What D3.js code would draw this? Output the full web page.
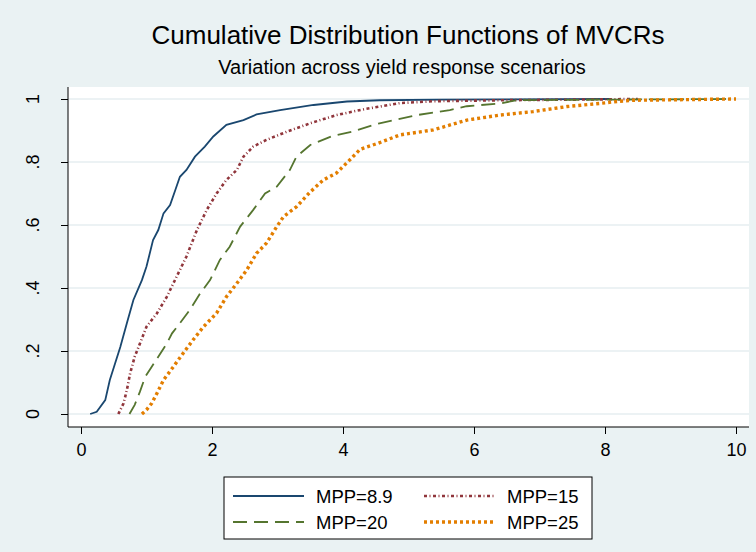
<!DOCTYPE html>
<html>
<head>
<meta charset="utf-8">
<script src="https://d3js.org/d3.v7.min.js"></script>
<style>
  body { margin: 0; background: #eaf2f3; }
  svg text { font-family: "Liberation Sans", Arial, sans-serif; fill: #000; }
</style>
</head>
<body>
<div id="chart"></div>
<script>
// CDF curves: x = MVCR, p = cumulative share
const navyX = [0.14, 0.24, 0.37, 0.44, 0.52, 0.6, 0.7, 0.8, 0.93, 1.0, 1.1, 1.18, 1.26, 1.36, 1.44, 1.51, 1.61, 1.74, 1.89, 2.02, 2.22, 2.48, 2.68, 3.04, 3.55, 4.06, 4.56, 5.5, 6.5, 8.07];
const navyP = [0, 0.007, 0.044, 0.108, 0.16, 0.213, 0.288, 0.362, 0.425, 0.468, 0.552, 0.584, 0.637, 0.663, 0.711, 0.753, 0.775, 0.817, 0.849, 0.881, 0.918, 0.933, 0.951, 0.965, 0.981, 0.992, 0.996, 0.998, 0.999, 1];

const maroonX = [0.57, 0.65, 0.7, 0.75, 0.82, 0.9, 1.0, 1.16, 1.31, 1.46, 1.61, 1.77, 1.92, 2.07, 2.22, 2.38, 2.48, 2.63, 2.83, 3.14, 3.5, 3.9, 4.33, 4.87, 5.38, 6.4, 7.5, 8.5];
const maroonP = [0, 0.034, 0.076, 0.129, 0.182, 0.224, 0.277, 0.32, 0.372, 0.436, 0.5, 0.584, 0.648, 0.7, 0.743, 0.775, 0.817, 0.849, 0.87, 0.896, 0.923, 0.949, 0.968, 0.987, 0.993, 0.996, 0.998, 1];

const greenX = [0.74, 0.82, 0.9, 0.98, 1.08, 1.18, 1.31, 1.39, 1.51, 1.66, 1.82, 1.97, 2.12, 2.27, 2.43, 2.63, 2.81, 2.99, 3.19, 3.29, 3.5, 3.82, 4.13, 4.54, 5.13, 5.63, 5.89, 6.4, 6.65, 8.0, 9.9];
const greenP = [0, 0.029, 0.071, 0.118, 0.15, 0.182, 0.224, 0.256, 0.288, 0.33, 0.383, 0.425, 0.489, 0.531, 0.595, 0.648, 0.7, 0.722, 0.775, 0.817, 0.854, 0.881, 0.896, 0.922, 0.949, 0.965, 0.977, 0.986, 0.996, 0.998, 1];

const orangeX = [0.93, 1.0, 1.08, 1.16, 1.26, 1.41, 1.56, 1.71, 1.87, 2.07, 2.22, 2.38, 2.53, 2.68, 2.83, 2.99, 3.09, 3.29, 3.5, 3.7, 3.9, 4.11, 4.26, 4.54, 4.87, 5.38, 5.89, 6.4, 6.9, 7.42, 7.92, 8.23, 8.43, 10.0];
const orangeP = [0, 0.013, 0.034, 0.066, 0.108, 0.15, 0.193, 0.235, 0.277, 0.32, 0.372, 0.415, 0.457, 0.51, 0.542, 0.595, 0.626, 0.658, 0.705, 0.743, 0.765, 0.808, 0.84, 0.86, 0.886, 0.902, 0.933, 0.949, 0.96, 0.976, 0.986, 0.993, 0.996, 1];

const seriesNames = ["MPP=8.9", "MPP=15", "MPP=20", "MPP=25"];
const xTicks = [0, 2, 4, 6, 8, 10];
const yTicks = [0, 0.2, 0.4, 0.6, 0.8, 1];
const yTickLabels = ["0", ".2", ".4", ".6", ".8", "1"];

const W = 756, H = 552;
const plot = { left: 68, right: 749, top: 87, bottom: 427 };

const styles = [
  { color: "#1a476f", width: 1.8, dash: null },
  { color: "#90353b", width: 2.6, dash: "3,2.5,1,2.5" },
  { color: "#55752f", width: 1.8, dash: "14,7" },
  { color: "#e37e00", width: 3.4, dash: "3,3" }
];

const series = [
  { xs: navyX, ps: navyP },
  { xs: maroonX, ps: maroonP },
  { xs: greenX, ps: greenP },
  { xs: orangeX, ps: orangeP }
].map((s, i) => ({ name: seriesNames[i], style: styles[i], pts: s.xs.map((x, j) => ({ x: x, p: s.ps[j] })) }));

const svg = d3.select("#chart").append("svg")
  .attr("width", W).attr("height", H);

svg.append("rect").attr("width", W).attr("height", H).attr("fill", "#eaf2f3");
svg.append("rect")
  .attr("x", plot.left).attr("y", plot.top)
  .attr("width", plot.right - plot.left).attr("height", plot.bottom - plot.top)
  .attr("fill", "#fff");

let xScale = d3.scaleLinear().domain([0, 10]).range([81, 736]);
let yScale = d3.scaleLinear().domain([0, 1]).range([414, 99]);

// gridlines
svg.append("g").selectAll("line").data(yTicks).join("line")
  .attr("x1", plot.left).attr("x2", plot.right)
  .attr("y1", d => yScale(d)).attr("y2", d => yScale(d))
  .attr("stroke", "#e6eef1").attr("stroke-width", 1.5);

// titles
svg.append("text").attr("x", 408).attr("y", 44)
  .attr("text-anchor", "middle").style("font-size", "26px")
  .text("Cumulative Distribution Functions of MVCRs");
svg.append("text").attr("x", 402).attr("y", 74)
  .attr("text-anchor", "middle").style("font-size", "20px")
  .text("Variation across yield response scenarios");

// axes
let xAxis = svg.append("g").attr("transform", "translate(0," + plot.bottom + ")")
  .call(d3.axisBottom(xScale).tickValues(xTicks).tickSize(7).tickSizeOuter(0).tickFormat(d3.format("d")));
xAxis.select(".domain").attr("d", "M" + plot.left + ",0H" + plot.right).attr("stroke", "#000");
xAxis.selectAll("text").style("font-size", "18px").attr("dy", "0").attr("y", 29);

let yAxis = svg.append("g").attr("transform", "translate(" + plot.left + ",0)")
  .call(d3.axisLeft(yScale).tickValues(yTicks).tickSize(7).tickSizeOuter(0).tickFormat(""));
yAxis.select(".domain").attr("d", "M0," + plot.top + "V" + plot.bottom).attr("stroke", "#000");

svg.append("g").selectAll("text").data(yTicks).join("text")
  .attr("transform", d => "translate(39," + yScale(d) + ") rotate(-90)")
  .attr("text-anchor", "middle")
  .style("font-size", "18px")
  .text((d, i) => yTickLabels[i]);

// curves
let lineGen = d3.line().x(d => xScale(d.x)).y(d => yScale(d.p));
svg.append("g").selectAll("path").data(series).join("path")
  .attr("fill", "none")
  .attr("stroke", d => d.style.color)
  .attr("stroke-width", d => d.style.width)
  .attr("stroke-dasharray", d => d.style.dash)
  .attr("d", d => lineGen(d.pts));

// legend
let legend = svg.append("g");
legend.append("rect").attr("x", 224).attr("y", 477).attr("width", 368).attr("height", 62)
  .attr("fill", "#fff").attr("stroke", "#000").attr("stroke-width", 1);
let legendPos = [
  { lx: 233, tx: 316, y: 496 },
  { lx: 424, tx: 507, y: 496 },
  { lx: 233, tx: 316, y: 522 },
  { lx: 424, tx: 507, y: 522 }
];
let items = legend.selectAll("g.item").data(series).join("g").attr("class", "item");
items.append("line")
  .attr("x1", (d, i) => legendPos[i].lx).attr("x2", (d, i) => legendPos[i].lx + 71)
  .attr("y1", (d, i) => legendPos[i].y).attr("y2", (d, i) => legendPos[i].y)
  .attr("stroke", d => d.style.color)
  .attr("stroke-width", d => d.style.width)
  .attr("stroke-dasharray", d => d.style.dash);
items.append("text")
  .attr("x", (d, i) => legendPos[i].tx).attr("y", (d, i) => legendPos[i].y + 7)
  .style("font-size", "18.5px")
  .text(d => d.name);
</script>
</body>
</html>
